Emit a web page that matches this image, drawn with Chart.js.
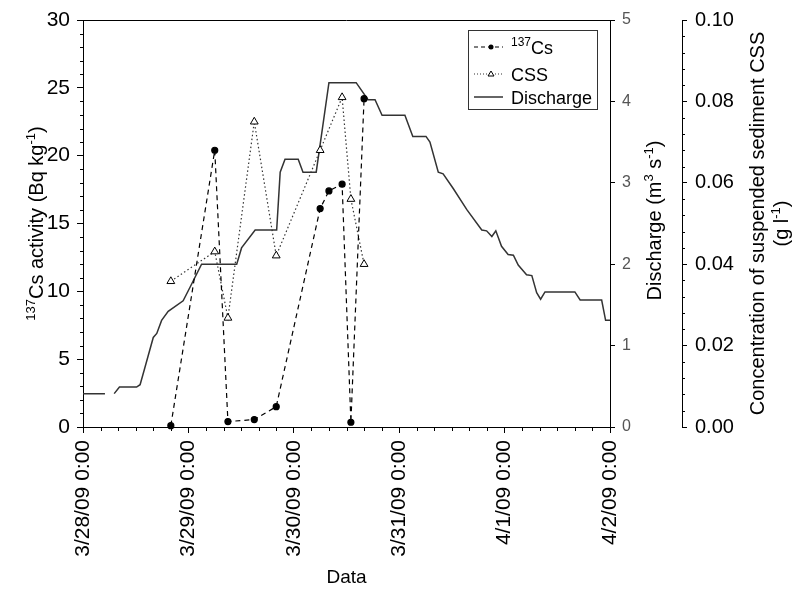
<!DOCTYPE html>
<html>
<head>
<meta charset="utf-8">
<script src="https://cdn.jsdelivr.net/npm/chart.js@4.4.1/dist/chart.umd.min.js"></script>
<style>
  html, body { margin: 0; background: #fff; }
  #wrap { width: 795px; height: 592px; }
</style>
</head>
<body>
<div id="wrap"><canvas id="chart01" width="795" height="592"></canvas></div>
<script>
// x values are hours after 3/28/09 0:00
const dayLabels = ["3/28/09 0:00", "3/29/09 0:00", "3/30/09 0:00", "3/31/09 0:00", "4/1/09 0:00", "4/2/09 0:00"];

const csHours = [20, 30, 33, 39, 44, 54, 56, 59, 61, 64];
const csActivity = [0.1, 20.4, 0.4, 0.55, 1.5, 16.1, 17.4, 17.9, 0.35, 24.2];

const cssHours = [20, 30, 33, 39, 44, 54, 59, 61, 64];
const cssConc = [0.0358, 0.0431, 0.0268, 0.075, 0.0421, 0.068, 0.081, 0.056, 0.040];

const qHours = [0, 5, 6, 7.1, 8.3, 12.2, 13.0, 14.1, 16.0, 16.8, 17.9, 19.4, 22.8, 24.4, 27.0,
  35.0, 36.1, 39.2, 44.1, 44.9, 46.0, 49.0, 50.1, 53.1, 56.0, 62.2, 64.9, 66.5, 68.1, 73.3,
  75.1, 78.1, 79.0, 80.9, 82.0, 84.3, 87.4, 90.8, 91.9, 93.1, 94.0, 95.3, 96.8, 98.0, 99.1,
  101.0, 102.2, 103.3, 104.2, 105.2, 112.0, 113.2, 118.1, 119.0, 120];
const qValues = [0.41, 0.41, null, 0.41, 0.49, 0.49, 0.52, 0.73, 1.10, 1.15, 1.31, 1.42, 1.55, 1.72, 2.00,
  2.00, 2.20, 2.42, 2.42, 3.13, 3.29, 3.29, 3.13, 3.13, 4.23, 4.23, 4.02, 4.02, 3.83, 3.83,
  3.57, 3.57, 3.50, 3.13, 3.11, 2.93, 2.67, 2.42, 2.41, 2.34, 2.41, 2.22, 2.12, 2.11, 1.99,
  1.87, 1.86, 1.65, 1.57, 1.66, 1.66, 1.56, 1.56, 1.31, 1.31];

const FONT = "'Liberation Sans', Arial, sans-serif";
Chart.defaults.font.family = FONT;
Chart.defaults.color = "#000";

const zip = (xs, ys) => xs.map((x, i) => ({ x: x, y: ys[i] }));

// text with ^{...} superscripts
function drawRich(ctx, text, x, y, size, vertical) {
  const parts = [];
  text.split(/(\^\{[^}]*\})/).forEach(function (s) {
    if (!s) return;
    if (s.startsWith("^{")) parts.push({ t: s.slice(2, -1), sup: true });
    else parts.push({ t: s, sup: false });
  });
  const supSize = Math.round(size * 0.65);
  ctx.save();
  ctx.translate(x, y);
  if (vertical) ctx.rotate(-Math.PI / 2);
  let total = 0;
  parts.forEach(function (p) {
    ctx.font = (p.sup ? supSize : size) + "px " + FONT;
    p.w = ctx.measureText(p.t).width;
    total += p.w;
  });
  let cx = vertical ? -total / 2 : 0;
  ctx.textAlign = "left";
  ctx.textBaseline = "alphabetic";
  ctx.fillStyle = "#000";
  parts.forEach(function (p) {
    ctx.font = (p.sup ? supSize : size) + "px " + FONT;
    ctx.fillText(p.t, cx, p.sup ? -size * 0.42 : 0);
    cx += p.w;
  });
  ctx.restore();
}

const extras = {
  id: "extras",
  afterDraw(chart) {
    const ctx = chart.ctx;
    const a = chart.chartArea;
    const sx = chart.scales.x, sy = chart.scales.y, sc = chart.scales.yC;
    ctx.save();
    ctx.strokeStyle = "#000";
    ctx.lineWidth = 1;
    // top frame line
    ctx.beginPath();
    ctx.moveTo(a.left, a.top + 0.5);
    ctx.lineTo(a.right, a.top + 0.5);
    ctx.stroke();
    // minor ticks
    ctx.beginPath();
    for (let h = 4; h < 120; h += 4) {
      if (h % 24 === 0) continue;
      const px = Math.round(sx.getPixelForValue(h)) + 0.5;
      ctx.moveTo(px, a.bottom);
      ctx.lineTo(px, a.bottom + 4);
    }
    for (let v = 1; v < 30; v++) {
      if (v % 5 === 0) continue;
      const py = Math.round(sy.getPixelForValue(v)) + 0.5;
      ctx.moveTo(a.left, py);
      ctx.lineTo(a.left - 3, py);
    }
    for (let k = 1; k < 25; k++) {
      if (k % 5 === 0) continue;
      const py = Math.round(sc.getPixelForValue(k * 0.004)) + 0.5;
      ctx.moveTo(sc.left, py);
      ctx.lineTo(sc.left + 3, py);
    }
    ctx.stroke();
    ctx.restore();

    // axis titles
    const midY = (a.top + a.bottom) / 2;
    drawRich(ctx, "^{137}Cs activity (Bq kg^{-1})", 43, midY, 20, true);
    drawRich(ctx, "Discharge (m^{3} s^{-1})", 661, midY - 3, 20, true);
    drawRich(ctx, "Concentration of suspended sediment CSS", 764, midY, 20, true);
    drawRich(ctx, "(g l^{-1})", 788, midY, 20, true);

    // legend
    const L = 468, T = 30, R = 597, B = 109;
    ctx.save();
    ctx.strokeStyle = "#333";
    ctx.lineWidth = 1;
    ctx.strokeRect(L + 0.5, T + 0.5, R - L, B - T);
    const rows = [
      { y: 47, dash: [4, 3], color: "#000", text: "^{137}Cs" },
      { y: 74, dash: [1, 2], color: "#333", text: "CSS" },
      { y: 97, dash: [], color: "#333", text: "Discharge" }
    ];
    rows.forEach(function (r, i) {
      ctx.setLineDash(r.dash);
      ctx.strokeStyle = r.color;
      ctx.lineWidth = i === 2 ? 1.5 : 1.2;
      ctx.beginPath();
      ctx.moveTo(474, r.y);
      ctx.lineTo(503, r.y);
      ctx.stroke();
      ctx.setLineDash([]);
      if (i === 0) {
        ctx.fillStyle = "#000";
        ctx.beginPath();
        ctx.arc(491, r.y, 2.5, 0, Math.PI * 2);
        ctx.fill();
      } else if (i === 1) {
        ctx.fillStyle = "#fff";
        ctx.strokeStyle = "#000";
        ctx.lineWidth = 1;
        ctx.beginPath();
        ctx.moveTo(491, r.y - 3);
        ctx.lineTo(494, r.y + 2);
        ctx.lineTo(488, r.y + 2);
        ctx.closePath();
        ctx.fill();
        ctx.stroke();
      }
      drawRich(ctx, r.text, 511, r.y + 7, 18, false);
    });
    ctx.restore();
  }
};

const ctx01 = document.getElementById("chart01").getContext("2d");

const chartData = {
  datasets: [
    {
      label: "Discharge",
      data: zip(qHours, qValues),
      yAxisID: "yQ",
      borderColor: "#333",
      borderWidth: 1.5,
      pointRadius: 0,
      spanGaps: false,
      tension: 0,
      order: 3
    },
    {
      label: "CSS",
      data: zip(cssHours, cssConc),
      yAxisID: "yC",
      borderColor: "#333",
      borderWidth: 1.2,
      borderDash: [1.5, 2.5],
      pointStyle: "triangle",
      pointRadius: 4.5,
      pointBackgroundColor: "#fff",
      pointBorderColor: "#000",
      pointBorderWidth: 1,
      clip: false,
      order: 2
    },
    {
      label: "137Cs",
      data: zip(csHours, csActivity),
      yAxisID: "y",
      borderColor: "#000",
      borderWidth: 1.2,
      borderDash: [5, 4],
      pointStyle: "circle",
      pointRadius: 3,
      pointBackgroundColor: "#000",
      pointBorderColor: "#000",
      clip: false,
      order: 1
    }
  ]
};

const tickGrid = (len) => ({ drawOnChartArea: false, tickLength: len, tickColor: "#000" });

const config = {
  type: "line",
  data: chartData,
  options: {
    responsive: false,
    animation: false,
    layout: { padding: { top: 17, left: 0, right: 0, bottom: 0 } },
    plugins: { legend: { display: false }, tooltip: { enabled: false } },
    scales: {
      x: {
        type: "linear",
        position: "bottom",
        min: 0,
        max: 120,
        ticks: {
          stepSize: 24,
          autoSkip: false,
          minRotation: 90,
          maxRotation: 90,
          padding: 7,
          font: { size: 21 },
          callback: (v) => dayLabels[Math.round(v / 24)]
        },
        grid: tickGrid(6),
        border: { color: "#000" },
        title: { display: true, text: "Data", font: { size: 19 }, padding: { top: 0, bottom: 3 } },
        afterFit: (s) => { s.height = 165; }
      },
      y: {
        position: "left",
        min: 0,
        max: 30,
        ticks: { stepSize: 5, padding: 7, font: { size: 21 } },
        grid: tickGrid(6),
        border: { color: "#000" },
        afterFit: (s) => { s.width = 83; }
      },
      yQ: {
        position: "right",
        weight: 0,
        min: 0,
        max: 5,
        ticks: { stepSize: 1, padding: 7, color: "#555", font: { size: 16 } },
        grid: tickGrid(5),
        border: { color: "#000" },
        afterFit: (s) => { s.width = 72; }
      },
      yC: {
        position: "right",
        weight: 1,
        min: 0,
        max: 0.1,
        ticks: { stepSize: 0.02, padding: 8, font: { size: 20 }, callback: (v) => v.toFixed(2) },
        grid: tickGrid(5),
        border: { color: "#000" },
        afterFit: (s) => { s.width = 113; }
      }
    }
  },
  plugins: [extras]
};

const myChart01 = new Chart(ctx01, config);
</script>
</body>
</html>
